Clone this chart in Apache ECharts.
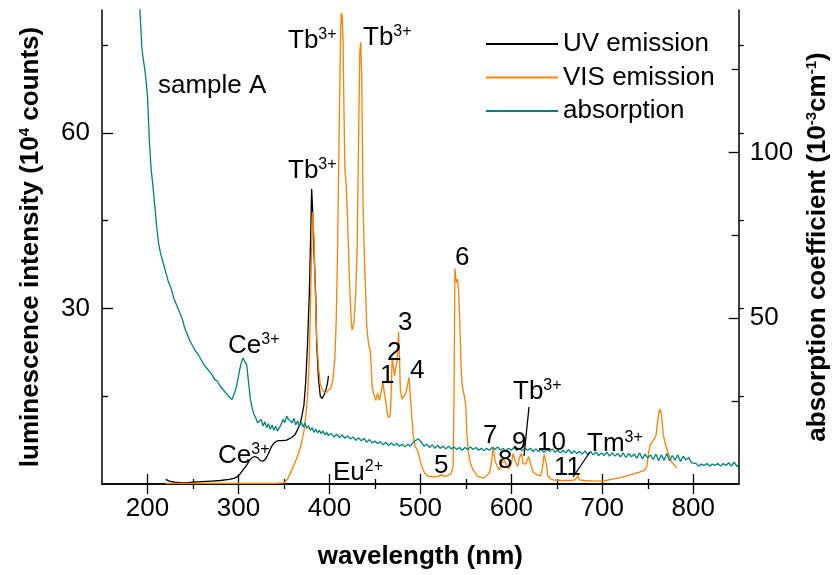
<!DOCTYPE html>
<html><head><meta charset="utf-8">
<script src="https://cdn.jsdelivr.net/npm/echarts@6/dist/echarts.min.js"></script>
<style>html,body{margin:0;padding:0;background:#fff}#c{width:840px;height:575px}</style>
</head><body><div id="c"></div>
<script>
// ---- tick values ----
const xMajorTicks = [200, 300, 400, 500, 600, 700, 800];
const xMinorTicks = [250, 350, 450, 550, 650, 750];
const lumMajorTicks = [30, 60];
const lumMinorTicks = [15, 45, 75];
const lumAllTicks = [15, 30, 45, 60, 75];
const absMajorTicks = [50, 100];
const absMinorTicks = [25, 75, 125];

// ---- series values: [wavelength nm, value] ----
const uvEmission = [
 [220,0.8],[224,0.5],[230,0.3],[240,0.2],[250,0.3],[260,0.4],[270,0.5],[280,0.6],[290,0.8],[296,1.0],
 [300,1.4],[303,2.0],[306,2.6],[309,3.2],[312,4.0],[315,4.5],[318,4.7],[321,4.5],[324,4.0],[327,3.9],
 [330,4.3],[333,5.2],[336,6.3],[339,7.0],[343,7.4],[348,7.4],[353,7.5],[358,7.9],[362,8.4],[365,9.3],
 [368,10.3],[370,11.8],[372,13.5],[374,17.5],[376,24],[378,33],[379.5,43],[380.5,50.4],[381.5,47],[383,40],
 [385,32],[386,24],[388,18],[390,15],[392,14.6],[394,15.2],[396,16],[398,17.3],[399,18.5]
];
const visEmission = [
 [220,0.1],[260,0.1],[300,0.1],[340,0.1],[350,0.2],[354,0.8],[358,2.2],[362,3.6],[366,5.2],[369,6.8],
 [372,9],[374,11.5],[376,15],[378,22],[379.5,33],[381,44],[381.8,46.5],[383,42],[384.5,33],[386,25],
 [388,20],[390,17],[393,15.9],[396,15.6],[399,16],[402,16.5],[404,18],[406,21.5],[407.5,28],[409,40],
 [410.5,58],[412,74],[413,80.5],[414,80],[415,76],[416,64],[417,54],[418.5,51],[420,45],[422,35],
 [424,28],[425,26.3],[427,27.5],[429,32.7],[430.5,40],[432,58],[433.5,74],[434.5,75.5],[435.5,70],[437,48],
 [438,41.8],[439,36],[440,32],[441,27],[443,24],[445,22.6],[446,20],[447,16.5],[449,15.2],[451,14.3],
 [453,15.5],[455,14.3],[457,15.8],[459,17.5],[460,16],[461,15.8],[462,14],[464,11.8],[465.5,11.3],[467,12],
 [468,16],[469,21.6],[470,21.5],[471.5,18.5],[473,20],[474.5,21],[476,26],[477,22],[478,16],[480,14.5],
 [482,15],[484,15.5],[486,17],[487.5,18.2],[489,15],[490,13],[492,8.5],[494,6.5],[497,5.7],[499,4.5],
 [501.5,3],[505,1.8],[509,1.3],[515,1.2],[520,1.3],[523,1.6],[526,1.3],[530,1.4],[534,1.8],[536,3],
 [537,15],[538,36.8],[539,35],[540,34.4],[541,35],[542,33],[543.5,27],[545,19],[546,17],[547,16],
 [549,14.5],[550,13.2],[551,9],[552.5,5.7],[555,3.5],[558,2.4],[563,1.3],[570,1.0],[576,1.9],[578,3.5],
 [580,6.4],[582,4],[585,2.8],[587,2.4],[589,3.5],[592,4.2],[595,3],[597,2.6],[600,3.5],[602,5.2],
 [604,4],[607,3],[609,4.5],[611,5.2],[613,3.5],[616,3.4],[619,4.7],[621,3.5],[624,2],[628,1.6],
 [632,1.4],[634,2.5],[636,5],[637,5.2],[638.5,3.5],[640,1.4],[643,0.9],[646,0.7],[655,0.6],[665,0.6],
 [670,0.7],[673,1.4],[675,0.7],[680,0.6],[690,0.5],[700,0.5],[710,0.8],[720,1.1],[730,1.5],[740,2.0],
 [746,2.3],[749,3],[751,5.5],[753,6.8],[756,7.4],[759,8.2],[761,11],[763,12.8],[765,12],[767,8.5],
 [769,7],[772,5.5],[776,3.8],[782,2.7]
];
const absorption = [
 [190,152],[192,141],[194,131],[196,127],[198,123],[200,117],[202,104],[204,95],[206,90],[208,84],
 [210,78],[212,73],[214,70],[216,68],[218,66],[220,64],[223,61],[226,59],[229,56],[232,54],
 [235,52],[238,50],[241,47],[244,45],[247,43],[250,41.5],[253,40],[256,39],[259,37.5],[262,36],
 [265,35],[268,34],[271,33],[274,31.5],[277,31],[280,29.5],[283,28.5],[286,27.5],[289,26.5],[291,26],
 [293,25.5],[295,27],[297,28.5],[299,31],[301,34],[303,36.5],[305,38],[307,38.4],[309,36],[311,31],
 [313,26],[315,23],[317,21],[319,20],[321,18.5],[323,18],[325,19.5],[327,17.5],[329,18.8],[331,17],
 [333,18.2],[335,16.5],[337,17.8],[339,16.2],[341,17.4],[343,16],[345,17],[347,18],[349,19.5],[351,18.5],
 [353,20.5],[355,19.5],[357,20],[359,18.5],[361,19.8],[363,17.8],[365,19],[367,17.5],[369,18.6],[371,17.2],
 [373,18.4],[375,16.8],[377,17.6],[379,16.2],[381,17],[383,15.6],[385,16.5],[387,15.4],[389,16.2],[391,15.2],
 [393,16],[395,14.8],[397,15.6],[399,14.6],[402,15.3],[405,14.2],[408,15],[411,14],[414,14.8],[417,13.8],
 [420,14.5],[423,13.6],[426,14.2],[429,13.2],[432,14],[435,13],[438,13.8],[441,12.6],[444,13.4],[447,12.4],
 [450,13],[453,12.2],[456,12.8],[459,11.8],[462,12.6],[465,11.6],[468,12.4],[471,11.6],[474,12.2],[477,11.4],
 [480,12],[483,11.2],[486,12],[489,11.4],[492,12.6],[495,13.2],[498,13.6],[501,12.6],[504,11.4],[507,12],
 [510,11],[513,11.8],[516,10.8],[519,11.6],[522,10.8],[525,11.4],[528,10.6],[531,11.4],[534,10.6],[537,11.2],
 [540,10.4],[543,11],[546,10.2],[549,11],[552,10.4],[555,11.2],[558,10.4],[561,11],[564,10.2],[567,10.8],
 [570,10],[573,10.8],[576,10.2],[579,11],[582,10.4],[585,11.2],[588,10.2],[591,10.8],[594,10],[597,10.8],
 [600,10.2],[603,11],[606,10.2],[609,10.8],[612,10],[615,10.8],[618,10.2],[621,10.8],[624,9.8],[627,10.6],
 [630,9.8],[633,10.4],[636,9.6],[639,10.4],[642,9.8],[645,10.6],[648,9.6],[651,10.2],[654,9.4],[657,10.2],
 [660,9.4],[663,10.4],[666,9.2],[669,10],[672,9.2],[675,9.8],[678,9],[681,10],[684,8.8],[687,9.8],
 [690,8.8],[693,9.6],[696,8.6],[699,9.4],[702,8.6],[705,9.6],[708,8.4],[711,9.4],[714,8.4],[717,9.2],
 [720,8.2],[723,9.4],[726,8],[729,9.2],[732,8.2],[735,9],[738,7.8],[741,9.4],[744,7.6],[747,9],
 [750,7.8],[753,8.8],[756,7.4],[759,9],[762,7],[765,8.8],[768,7.2],[771,9.2],[774,7],[777,8.6],
 [780,7.2],[783,8.8],[786,6.8],[789,8.4],[792,7.2],[795,8],[798,6.4],[800,5.8],[803,6.2],[806,5.4],
 [809,6],[812,5.6],[815,6.2],[818,5.4],[821,6],[824,5.6],[827,6.2],[830,5.4],[833,6.2],[836,5.6],
 [839,6.4],[842,5.4],[845,6.6],[848,5.2],[850,6.2]
];

const FF = '"Liberation Sans", Arial, Helvetica, sans-serif';
const chart = echarts.init(document.getElementById('c'), null, {renderer: 'canvas'});

function minorAxis(pos, min, max, ticks, len, inside) {
  return {type: 'value', position: pos, min: min, max: max,
    axisLine: {show: false}, splitLine: {show: false}, axisLabel: {show: false},
    axisTick: {show: true, inside: inside, length: len, customValues: ticks,
      lineStyle: {color: '#000', width: 1.3}}};
}
function ann(x, baseline, base, sup) {
  return {type: 'text', x: x, y: baseline - 9, z: 100,
    style: {text: sup ? base + '{s|' + sup + '}' : base, fill: '#000', fontSize: 26, fontFamily: FF,
      align: 'left', verticalAlign: 'middle', lineHeight: 28,
      rich: {s: {fontSize: 16, fontFamily: FF, fill: '#000', verticalAlign: 'top', lineHeight: 12}}}};
}
function seg(x1, y1, x2, y2) {
  return {type: 'line', z: 100, shape: {x1: x1, y1: y1, x2: x2, y2: y2}, style: {stroke: '#000', lineWidth: 1.3}};
}

const axisLineStyle = {color: '#000', width: 1.5};
const labelStyle = {color: '#000', fontSize: 26, fontFamily: FF};

chart.setOption({
  animation: false,
  backgroundColor: '#fff',
  grid: {left: 102, right: 98, top: 10, bottom: 84, containLabel: false},
  legend: {orient: 'vertical', left: 485, top: 31, padding: 0, itemWidth: 72, itemHeight: 14, itemGap: 7.5,
    itemStyle: {opacity: 0},
    textStyle: {color: '#000', fontSize: 26, fontFamily: FF, lineHeight: 26},
    data: ['UV emission', 'VIS emission', 'absorption']},
  xAxis: [
    {type: 'value', position: 'bottom', min: 150, max: 850,
     axisLine: {show: true, lineStyle: axisLineStyle}, splitLine: {show: false},
     axisTick: {show: true, inside: true, length: 10, customValues: xMajorTicks, lineStyle: {color: '#000', width: 1.3}},
     axisLabel: {show: true, customValues: xMajorTicks, margin: 12, ...labelStyle},
     name: 'wavelength (nm)', nameLocation: 'middle', nameGap: 60,
     nameTextStyle: {color: '#000', fontSize: 26, fontWeight: 'bold', fontFamily: FF}},
    minorAxis('bottom', 150, 850, xMinorTicks, 5, true),
    {type: 'value', position: 'top', min: 150, max: 850,
     axisLine: {show: true, lineStyle: axisLineStyle}, splitLine: {show: false}, axisLabel: {show: false},
     axisTick: {show: true, inside: true, length: 10, customValues: xMajorTicks, lineStyle: {color: '#000', width: 1.3}}},
    minorAxis('top', 150, 850, xMinorTicks, 5, true)
  ],
  yAxis: [
    {type: 'value', position: 'left', min: 0, max: 81,
     axisLine: {show: true, lineStyle: axisLineStyle}, splitLine: {show: false},
     axisTick: {show: true, inside: true, length: 11, customValues: lumMajorTicks, lineStyle: {color: '#000', width: 1.3}},
     axisLabel: {show: true, customValues: lumMajorTicks, margin: 12, ...labelStyle},
     name: 'luminescence intensity (10{s|4} counts)', nameLocation: 'middle', nameGap: 57,
     nameTextStyle: {color: '#000', fontSize: 26, fontWeight: 'bold', fontFamily: FF, lineHeight: 28,
       rich: {s: {fontSize: 15, fontWeight: 'bold', fontFamily: FF, color: '#000', verticalAlign: 'top', lineHeight: 12}}}},
    minorAxis('left', 0, 81, lumMinorTicks, 6, true),
    {type: 'value', position: 'right', min: 0, max: 143,
     axisLine: {show: true, lineStyle: axisLineStyle}, splitLine: {show: false},
     axisTick: {show: true, inside: true, length: 10, customValues: absMajorTicks, lineStyle: {color: '#000', width: 1.3}},
     axisLabel: {show: true, customValues: absMajorTicks, margin: 11, ...labelStyle},
     name: 'absorption coefficient (10{s|-3}cm{s|-1})', nameLocation: 'middle', nameGap: 62,
     nameTextStyle: {color: '#000', fontSize: 26, fontWeight: 'bold', fontFamily: FF, lineHeight: 28,
       rich: {s: {fontSize: 15, fontWeight: 'bold', fontFamily: FF, color: '#000', verticalAlign: 'top', lineHeight: 12}}}},
    minorAxis('right', 0, 143, absMinorTicks, 7, true),
    minorAxis('right', 0, 81, lumAllTicks, 5, false)
  ],
  series: [
    {name: 'UV emission', type: 'line', xAxisIndex: 0, yAxisIndex: 0, data: uvEmission,
     symbol: 'none', showSymbol: false, color: '#000', lineStyle: {color: '#000', width: 1.3}},
    {name: 'VIS emission', type: 'line', xAxisIndex: 0, yAxisIndex: 0, data: visEmission,
     symbol: 'none', showSymbol: false, color: '#ff8000', lineStyle: {color: '#ff8000', width: 1.3}},
    {name: 'absorption', type: 'line', xAxisIndex: 0, yAxisIndex: 2, data: absorption,
     symbol: 'none', showSymbol: false, color: '#008080', lineStyle: {color: '#008080', width: 1.3}}
  ],
  graphic: [
    ann(158, 95, 'sample A'),
    ann(288, 50, 'Tb', '3+'),
    ann(363, 47, 'Tb', '3+'),
    ann(288, 180, 'Tb', '3+'),
    ann(228, 355, 'Ce', '3+'),
    ann(218, 465, 'Ce', '3+'),
    ann(333, 482, 'Eu', '2+'),
    ann(380, 385, '1'),
    ann(387, 362, '2'),
    ann(398, 332, '3'),
    ann(410, 380, '4'),
    ann(434, 475, '5'),
    ann(455, 267, '6'),
    ann(483, 445, '7'),
    ann(498, 470, '8'),
    ann(512, 452, '9'),
    ann(537, 452, '10'),
    ann(554, 477, '11'),
    seg(573, 477, 590, 452),
    ann(587, 453, 'Tm', '3+'),
    ann(513, 401, 'Tb', '3+'),
    seg(529, 407, 524, 456)
  ]
});
</script>
</body></html>
